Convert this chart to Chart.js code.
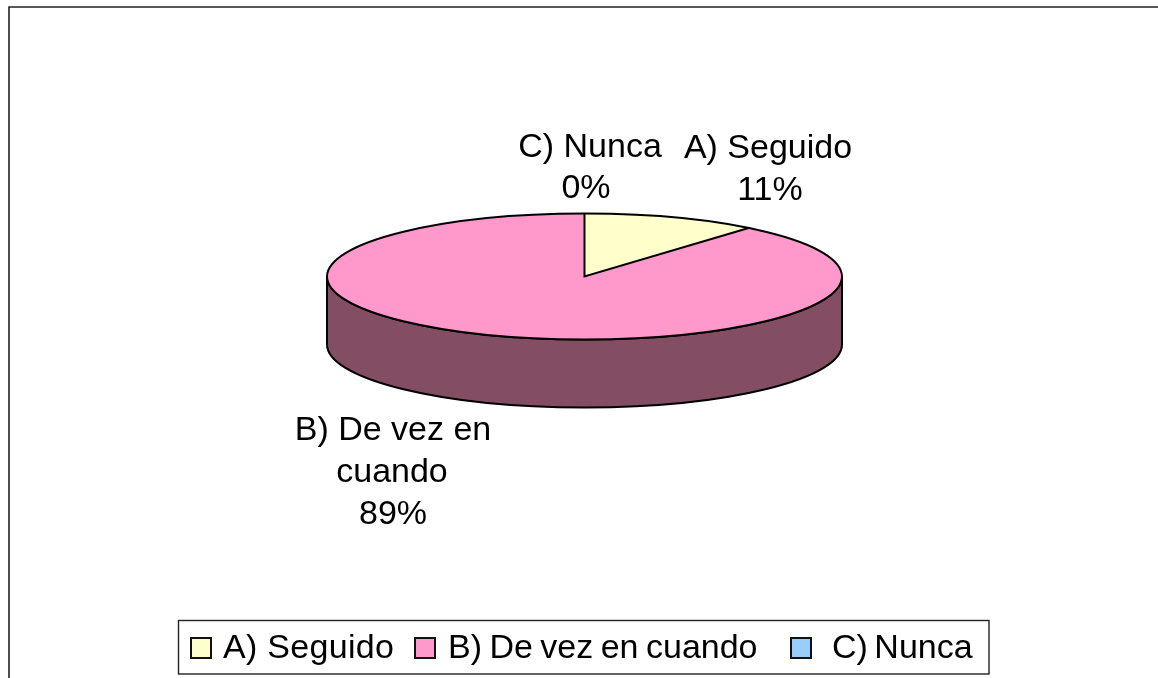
<!DOCTYPE html>
<html><head><meta charset="utf-8">
<style>html,body{margin:0;padding:0;background:#fff;overflow:hidden}#w{position:absolute;left:0;top:0;width:1158px;height:678px}</style>
<script src="https://cdn.jsdelivr.net/npm/chart.js@4"></script>
</head><body><div id="w"><canvas id="c" width="1158" height="678"></canvas></div>
<script>
const categories = ['A) Seguido', 'B) De vez en cuando', 'C) Nunca'];
const values = [11, 89, 0];
const colors = ['#FFFFCC', '#FF99CC', '#99CCFF'];
const sideColor = '#834E63';
const labelLines = [['A) Seguido', '11%'], ['B) De vez en', 'cuando', '89%'], ['C) Nunca', '0%']];
const labelX = [[768, 770], [393, 392, 393], [590, 586]];
const labelY = [[158, 200], [440, 482, 524], [157, 198]];
const legendBoxX = [191, 415, 791];
const legendTextX = [223, 448, 832];
const legendWordGap = ['0px', '-2px', '-3px'];
const legendLetterGap = ['0.3px', '0px', '0px'];
const FONT = '"Liberation Sans", Arial, sans-serif';
const TILT = 63 / 257.5, DEPTH = 68;

const frame = {
  id: 'frame',
  beforeDraw(chart) {
    const c = chart.ctx;
    c.save();
    c.fillStyle = '#fff';
    c.fillRect(0, 0, chart.width, chart.height);
    c.strokeStyle = '#222';
    c.lineWidth = 1.6;
    c.beginPath();
    c.moveTo(9, 700); c.lineTo(9, 7); c.lineTo(1160, 7);
    c.stroke();
    c.strokeStyle = '#222';
    c.lineWidth = 1.4;
    c.strokeRect(178.5, 620.5, 810.5, 53.5);
    c.font = '34px ' + FONT;
    c.textAlign = 'left';
    c.textBaseline = 'alphabetic';
    categories.forEach((t, i) => {
      c.fillStyle = colors[i];
      c.strokeStyle = '#111';
      c.lineWidth = 2;
      c.fillRect(legendBoxX[i], 638, 20, 20);
      c.strokeRect(legendBoxX[i], 638, 20, 20);
      c.fillStyle = '#000';
      c.wordSpacing = legendWordGap[i];
      c.letterSpacing = legendLetterGap[i];
      c.fillText(t, legendTextX[i], 658);
    });
    c.restore();
  }
};
const tilt3d = {
  id: 'tilt3d',
  beforeDatasetDraw(chart) {
    const c = chart.ctx, el = chart.getDatasetMeta(0).data[0];
    const r = el.outerRadius, ry = r * TILT;
    c.save();
    c.beginPath();
    c.ellipse(el.x, el.y, r, ry, 0, 0, Math.PI);
    c.lineTo(el.x - r, el.y + DEPTH);
    c.ellipse(el.x, el.y + DEPTH, r, ry, 0, Math.PI, 0, true);
    c.closePath();
    c.fillStyle = sideColor;
    c.fill();
    c.strokeStyle = '#000';
    c.lineWidth = 2;
    c.stroke();
    c.restore();
    c.save();
    c.translate(el.x, el.y);
    c.scale(1, TILT);
    c.translate(-el.x, -el.y);
  },
  afterDatasetDraw(chart) {
    const c = chart.ctx;
    c.restore();
    const a = chart.getDatasetMeta(0).data[0], r = a.outerRadius;
    c.save();
    c.strokeStyle = '#000';
    c.lineWidth = 2;
    c.beginPath();
    c.ellipse(a.x, a.y, r, r * TILT, 0, 0, Math.PI * 2);
    c.stroke();
    c.beginPath();
    c.moveTo(a.x + r * Math.cos(a.endAngle), a.y + r * TILT * Math.sin(a.endAngle));
    c.lineTo(a.x, a.y);
    c.lineTo(a.x + r * Math.cos(a.startAngle), a.y + r * TILT * Math.sin(a.startAngle));
    c.stroke();
    c.fillStyle = '#000';
    c.font = '34px ' + FONT;
    c.textAlign = 'center';
    c.textBaseline = 'alphabetic';
    labelLines.forEach((ls, i) => ls.forEach((t, j) => c.fillText(t, labelX[i][j], labelY[i][j])));
    c.restore();
  }
};
new Chart(document.getElementById('c'), {
  type: 'pie',
  data: {
    labels: categories,
    datasets: [{ data: values, backgroundColor: colors, borderWidth: 0 }]
  },
  plugins: [frame, tilt3d],
  options: {
    responsive: false,
    animation: false,
    layout: { padding: { left: 327, right: 316, top: 19, bottom: 144 } },
    plugins: { legend: { display: false }, tooltip: { enabled: false } }
  }
});
</script></body></html>
